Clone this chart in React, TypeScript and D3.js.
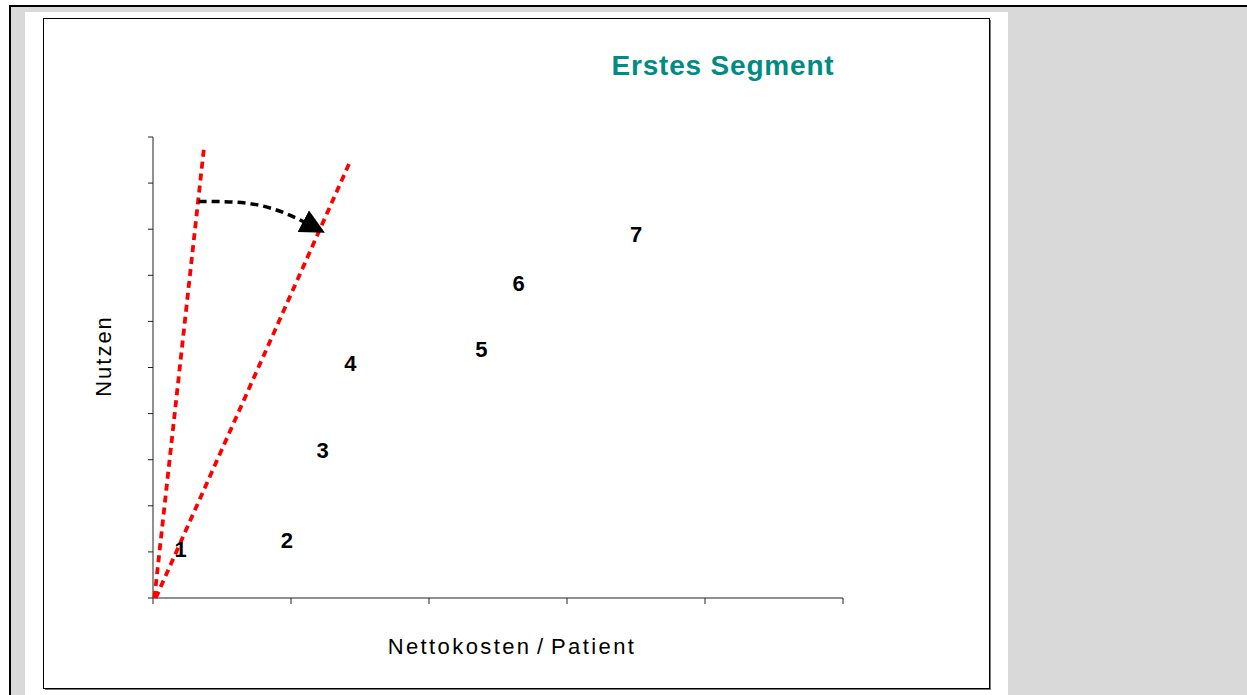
import React from "react";
import * as d3 from "d3";

// products: label, net cost per patient, benefit
const labels = ["1", "2", "3", "4", "5", "6", "7"];
const costs = [0.2, 0.97, 1.23, 1.43, 2.38, 2.65, 3.5];
const benefits = [1.05, 1.25, 3.2, 5.1, 5.4, 6.83, 7.88];

// red dashed threshold lines (start, end)
const steepLine = [
  [0.01, 0],
  [0.37, 9.78],
];
const flatLine = [
  [0.02, 0],
  [1.43, 9.48],
];

// curved arrow between the two lines
const arrowPath = [
  [0.33, 8.6],
  [0.8, 8.5],
  [1.23, 7.95],
];

const xTicks = [0, 1, 2, 3, 4, 5];
const yTicks = [0, 1, 2, 3, 4, 5, 6, 7, 8, 9, 10];

const App = () => {
  const W = 1247;
  const H = 695;

  // plot area
  const left = 153;
  const right = 843;
  const top = 137;
  const bottom = 598;

  const x = d3.scaleLinear().domain([0, 5]).range([left, right]);
  const y = d3.scaleLinear().domain([0, 10]).range([bottom, top]);

  const line = d3
    .line<number[]>()
    .x((d) => x(d[0]))
    .y((d) => y(d[1]));

  const curve = d3
    .line<number[]>()
    .x((d) => x(d[0]))
    .y((d) => y(d[1]))
    .curve(d3.curveNatural);

  const font = "Arial, 'Liberation Sans', sans-serif";

  return (
    <div style={{ position: "fixed", left: 0, top: 0 }}>
      <svg width={W} height={H} style={{ display: "block" }}>
        <defs>
          <marker
            id="head"
            viewBox="0 0 10 10"
            refX="9"
            refY="5"
            markerWidth="7"
            markerHeight="7"
            markerUnits="strokeWidth"
            orient="auto"
          >
            <path d="M0,0 L10,5 L0,10 Z" fill="#000" />
          </marker>
        </defs>

        {/* background frame */}
        <rect x={0} y={0} width={W} height={H} fill="#fff" />
        <rect x={10} y={6} width={W - 10} height={H - 6} fill="#d9d9d9" />
        <line x1={9} y1={6} x2={W} y2={6} stroke="#000" strokeWidth={2} />
        <line x1={10} y1={5} x2={10} y2={H} stroke="#000" strokeWidth={2} />
        <rect x={25} y={12} width={983} height={H - 12} fill="#fff" />

        {/* chart box with shadow */}
        <rect x={45} y={20} width={946} height={670} fill="#777" />
        <rect x={43.5} y={18.5} width={946} height={670} fill="#fff" stroke="#000" strokeWidth={1} />

        {/* title */}
        <text
          x={723}
          y={75}
          textAnchor="middle"
          fontFamily={font}
          fontWeight="bold"
          fontSize={28}
          letterSpacing={0.8}
          fill="#008b84"
        >
          Erstes Segment
        </text>

        {/* axes */}
        <g stroke="#222" strokeWidth={1}>
          <line x1={left} y1={top} x2={left} y2={bottom} />
          <line x1={left} y1={bottom} x2={right} y2={bottom} />
          {yTicks.map((t) => (
            <line key={"y" + t} x1={left - 5} x2={left} y1={y(t)} y2={y(t)} />
          ))}
          {xTicks.map((t) => (
            <line key={"x" + t} x1={x(t)} x2={x(t)} y1={bottom} y2={bottom + 6} />
          ))}
        </g>

        {/* axis titles */}
        <text
          x={512}
          y={654}
          textAnchor="middle"
          fontFamily={font}
          fontSize={22}
          letterSpacing={2.4}
          wordSpacing={-3}
          fill="#000"
        >
          Nettokosten / Patient
        </text>
        <text
          transform={`translate(111,356) rotate(-90)`}
          textAnchor="middle"
          fontFamily={font}
          fontSize={22}
          letterSpacing={2}
          fill="#000"
        >
          Nutzen
        </text>

        {/* red dashed lines */}
        <path d={line(steepLine) || ""} fill="none" stroke="#ff0000" strokeWidth={3.8} strokeDasharray="7,5" />
        <path d={line(flatLine) || ""} fill="none" stroke="#ff0000" strokeWidth={3.8} strokeDasharray="7,5" />

        {/* arrow */}
        <path
          d={curve(arrowPath) || ""}
          fill="none"
          stroke="#000"
          strokeWidth={3.5}
          strokeDasharray="8,5"
          markerEnd="url(#head)"
        />

        {/* product labels */}
        {labels.map((l, i) => (
          <text
            key={l}
            x={x(costs[i])}
            y={y(benefits[i])}
            dy="0.35em"
            textAnchor="middle"
            fontFamily={font}
            fontWeight="bold"
            fontSize={22}
            fill="#000"
          >
            {l}
          </text>
        ))}
      </svg>
    </div>
  );
};

export default App;
